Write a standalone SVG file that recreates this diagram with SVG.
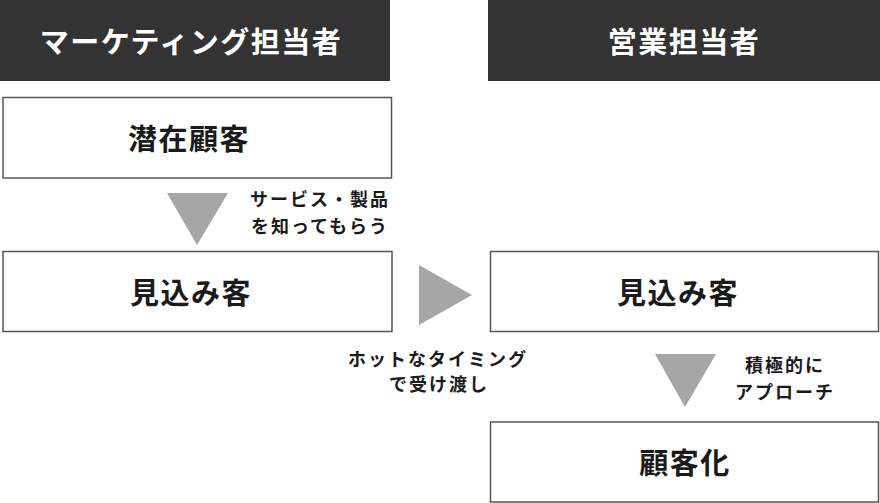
<svg xmlns="http://www.w3.org/2000/svg" width="880" height="503" viewBox="0 0 880 503">
<style>
.hdr{fill:#333333}
.hdrt{fill:#ffffff;font-family:"Noto Sans CJK JP","Noto Sans",sans-serif;font-weight:bold;font-size:29px;letter-spacing:1.5px;text-anchor:middle}
.box{fill:#ffffff;stroke:#555555;stroke-width:1.5}
.boxt{fill:#1a1a1a;font-family:"Noto Sans CJK JP","Noto Sans",sans-serif;font-weight:bold;font-size:29px;letter-spacing:1.5px;text-anchor:middle}
.tri{fill:#a6a6a6}
.lbl{fill:#1a1a1a;font-family:"Noto Sans CJK JP","Noto Sans",sans-serif;font-weight:bold;font-size:18px;letter-spacing:2px;text-anchor:middle}
</style>
<rect width="880" height="503" fill="#ffffff"/>
<g id="header-marketing">
<rect class="hdr" x="0" y="0" width="390" height="81"/>
<text class="hdrt" x="191" y="53">マーケティング担当者</text>
</g>
<g id="header-sales">
<rect class="hdr" x="488" y="0" width="392" height="81"/>
<text class="hdrt" x="684" y="53">営業担当者</text>
</g>
<g id="node-potential">
<rect class="box" x="3" y="97.5" width="388.5" height="80.5"/>
<text class="boxt" x="189" y="150">潜在顧客</text>
</g>
<g id="node-prospect-left">
<rect class="box" x="3" y="251.5" width="389" height="80"/>
<text class="boxt" x="191" y="304">見込み客</text>
</g>
<g id="node-prospect-right">
<rect class="box" x="490.5" y="251.5" width="388" height="80"/>
<text class="boxt" x="678" y="304">見込み客</text>
</g>
<g id="node-customer">
<rect class="box" x="490.5" y="422" width="388" height="80"/>
<text class="boxt" x="685" y="474">顧客化</text>
</g>
<g id="connectors">
<polygon class="tri" points="167,193 228,193 197,245"/>
<text class="lbl" x="320" y="206">サービス・製品</text>
<text class="lbl" x="320" y="233">を知ってもらう</text>
<polygon class="tri" points="419,265 472,295 419,325"/>
<text class="lbl" x="438" y="366">ホットなタイミング</text>
<text class="lbl" x="439" y="391">で受け渡し</text>
<polygon class="tri" points="655,354 716,354 685,407"/>
<text class="lbl" x="785" y="372">積極的に</text>
<text class="lbl" x="785" y="399">アプローチ</text>
</g>
</svg>
